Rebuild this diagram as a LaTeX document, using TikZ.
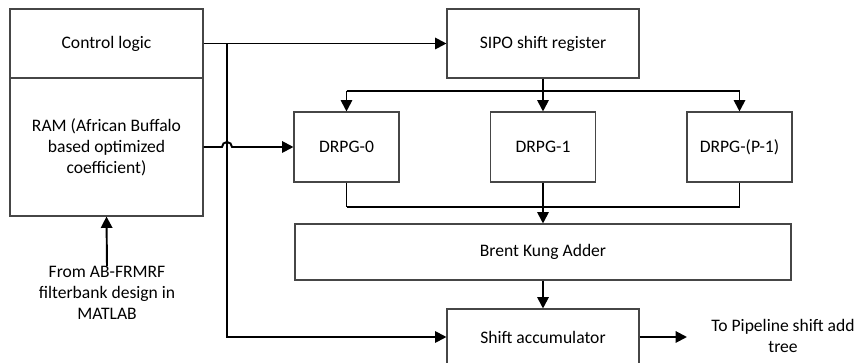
\documentclass[tikz,border=0pt]{standalone}
\usepackage{fontspec}
\setmainfont{Carlito}
\usetikzlibrary{arrows.meta}

\tikzset{
	blk/.style={rectangle,draw=gray!55!black,line width=0.6pt,align=center,
		font=\fontsize{10}{12}\selectfont,inner sep=0pt},
	lbl/.style={align=center,font=\fontsize{10}{12}\selectfont,inner sep=0pt},
	wire/.style={line width=1.1pt},
}

\begin{document}
\begin{tikzpicture}[x=0.2mm,y=-0.2mm,>={Triangle[length=6.5pt,width=6.5pt]}]
	\useasboundingbox (0,0) rectangle (858,363);
	
	% left column: control logic on top of the coefficient RAM
	\node[blk,minimum width=38.6mm,minimum height=13.8mm] (ctrl) at (106.5,43.5) {Control logic};
	\node[blk,minimum width=38.6mm,minimum height=27.6mm] (ram) at (106.5,147)
	{RAM (African Buffalo\\based optimized\\coefficient)};
	\node[lbl,anchor=north] (src) at (107,266) {From AB-FRMRF\\filterbank design in\\MATLAB};
	
	% datapath
	\node[blk,minimum width=38.4mm,minimum height=13.8mm] (sipo) at (543,43.5) {SIPO shift register};
	\foreach \i/\x/\name in {0/346.5/DRPG-0,1/543/DRPG-1,2/739.5/DRPG-(P-1)}{
		\node[blk,minimum width=21mm,minimum height=14mm] (drpg\i) at (\x,147) {\name};
	}
	\node[blk,minimum width=99.2mm,minimum height=11.2mm] (bka) at (543,252) {Brent Kung Adder};
	\node[blk,minimum width=38.4mm,minimum height=11.2mm] (acc) at (543,337) {Shift accumulator};
	\node[lbl] (out) at (783,336) {To Pipeline shift add\\tree};
	
	\coordinate (jn) at (227,43.5);   % control fan-out point
	\coordinate (split) at (543,91);  % SIPO fan-out
	\coordinate (merge) at (543,207); % DRPG outputs join
	\coordinate (outtip) at (687,337);
	
	% control logic to SIPO and to the accumulator
	\draw[wire,->] (ctrl.east) -- (sipo.west);
	\draw[wire,->] (jn) -- (jn |- acc.west) -- (acc.west);
	
	% coefficients to DRPG-0, hopping over the control line
	\draw[wire,->] (ram.east) -- ([xshift=-1mm]jn |- ram.east) arc (180:360:5) -- (drpg0.west);
	
	% SIPO fans out to the DRPGs
	\draw[wire] (sipo.south) -- (split);
	\draw[wire] (split -| drpg0.north) -- (split -| drpg2.north);
	\foreach \i in {0,1,2}{
		\draw[wire,->] (split -| drpg\i.north) -- (drpg\i.north);
		\draw[wire] (drpg\i.south) -- (merge -| drpg\i.south);
	}
	\draw[wire] (merge -| drpg0.south) -- (merge -| drpg2.south);
	\draw[wire,->] (merge) -- (bka.north);
	
	\draw[wire,->] (bka.south) -- (acc.north);
	\draw[wire,->] (acc.east) -- (outtip);
	\draw[wire,->] (src.north) -- (ram.south);
\end{tikzpicture}
\end{document}
